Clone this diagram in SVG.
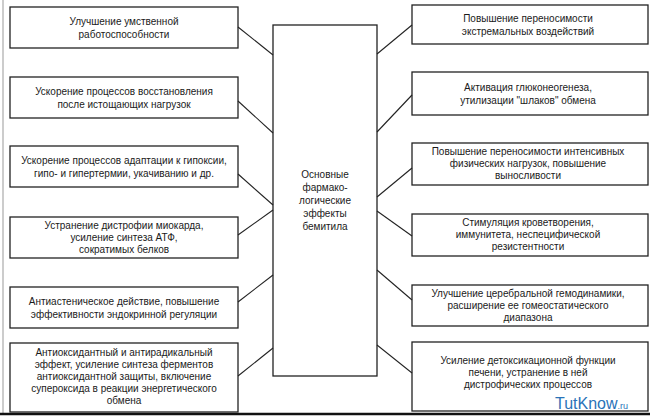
<svg xmlns="http://www.w3.org/2000/svg" width="650" height="419" viewBox="0 0 650 419">
<style>
.b{fill:#fff;stroke:#222;stroke-width:1.3}
.t{font-family:"Liberation Sans",Arial,sans-serif;font-size:10px;fill:#1a1a1a;text-anchor:middle}
.c line{stroke:#222;stroke-width:1.1}
</style>
<rect width="650" height="419" fill="#fff"/>
<line x1="3" y1="0" x2="3" y2="413" stroke="#bbb" stroke-width="1.5"/>
<line x1="0" y1="414" x2="650" y2="414" stroke="#111" stroke-width="2.5"/>
<g id="center"><rect class="b" x="273" y="25" width="104" height="351"/>
<text class="t"><tspan x="325" y="178">Основные</tspan><tspan x="325" y="191">фармако-</tspan><tspan x="325" y="204">логические</tspan><tspan x="325" y="217">эффекты</tspan><tspan x="325" y="230">бемитила</tspan></text></g>
<g id="l1"><rect class="b" x="10" y="7" width="228" height="41"/><text class="t"><tspan x="124" y="25">Улучшение умственной</tspan><tspan x="124" y="38">работоспособности</tspan></text></g>
<g id="l2"><rect class="b" x="10" y="77" width="228" height="41"/><text class="t"><tspan x="124" y="95">Ускорение процессов восстановления</tspan><tspan x="124" y="108">после истощающих нагрузок</tspan></text></g>
<g id="l3"><rect class="b" x="10" y="146" width="228" height="41"/><text class="t"><tspan x="124" y="164">Ускорение процессов адаптации к гипоксии,</tspan><tspan x="124" y="177">гипо- и гипертермии, укачиванию и др.</tspan></text></g>
<g id="l4"><rect class="b" x="10" y="217" width="228" height="41"/><text class="t"><tspan x="124" y="229">Устранение дистрофии миокарда,</tspan><tspan x="124" y="241">усиление синтеза АТФ,</tspan><tspan x="124" y="253">сократимых белков</tspan></text></g>
<g id="l5"><rect class="b" x="10" y="287" width="228" height="41"/><text class="t"><tspan x="124" y="305">Антиастеническое действие, повышение</tspan><tspan x="124" y="318">эффективности эндокринной регуляции</tspan></text></g>
<g id="l6"><rect class="b" x="10" y="343" width="228" height="69"/><text class="t"><tspan x="124" y="356">Антиоксидантный и антирадикальный</tspan><tspan x="124" y="368">эффект, усиление синтеза ферментов</tspan><tspan x="124" y="380">антиоксидантной защиты, включение</tspan><tspan x="124" y="392">супероксида в реакции энергетического</tspan><tspan x="124" y="404">обмена</tspan></text></g>
<g id="r1"><rect class="b" x="412" y="5" width="236" height="39"/><text class="t"><tspan x="528" y="22">Повышение переносимости</tspan><tspan x="528" y="35">экстремальных воздействий</tspan></text></g>
<g id="r2"><rect class="b" x="412" y="72" width="236" height="43"/><text class="t"><tspan x="528" y="91">Активация глюконеогенеза,</tspan><tspan x="528" y="104">утилизации "шлаков" обмена</tspan></text></g>
<g id="r3"><rect class="b" x="412" y="143" width="236" height="42"/><text class="t"><tspan x="528" y="155">Повышение переносимости интенсивных</tspan><tspan x="528" y="167">физических нагрузок, повышение</tspan><tspan x="528" y="179">выносливости</tspan></text></g>
<g id="r4"><rect class="b" x="412" y="214" width="236" height="42"/><text class="t"><tspan x="528" y="226">Стимуляция кроветворения,</tspan><tspan x="528" y="238">иммунитета, неспецифической</tspan><tspan x="528" y="250">резистентности</tspan></text></g>
<g id="r5"><rect class="b" x="412" y="285" width="236" height="41"/><text class="t"><tspan x="528" y="297">Улучшение церебральной гемодинамики,</tspan><tspan x="528" y="309">расширение ее гомеостатического</tspan><tspan x="528" y="321">диапазона</tspan></text></g>
<g id="r6"><rect class="b" x="412" y="342" width="236" height="69"/><text class="t"><tspan x="528" y="364">Усиление детоксикационной функции</tspan><tspan x="528" y="376">печени, устранение в ней</tspan><tspan x="528" y="388">дистрофических процессов</tspan></text></g>
<g class="c" id="connectors">
<line x1="238" y1="27" x2="273" y2="55"/><line x1="238" y1="101" x2="273" y2="133"/><line x1="238" y1="174" x2="273" y2="205"/><line x1="238" y1="235" x2="273" y2="210"/><line x1="238" y1="302" x2="273" y2="275"/><line x1="238" y1="376" x2="273" y2="348"/>
<line x1="377" y1="54" x2="412" y2="25"/><line x1="377" y1="132" x2="412" y2="95"/><line x1="377" y1="197" x2="412" y2="168"/><line x1="377" y1="211" x2="412" y2="236"/><line x1="377" y1="270" x2="412" y2="300"/><line x1="377" y1="345" x2="412" y2="373"/>
</g>
<text x="555" y="409" font-family="'Liberation Sans',Arial,sans-serif" font-size="16" fill="#2a73b8">TutKnow<tspan font-size="9">.ru</tspan></text>
</svg>
